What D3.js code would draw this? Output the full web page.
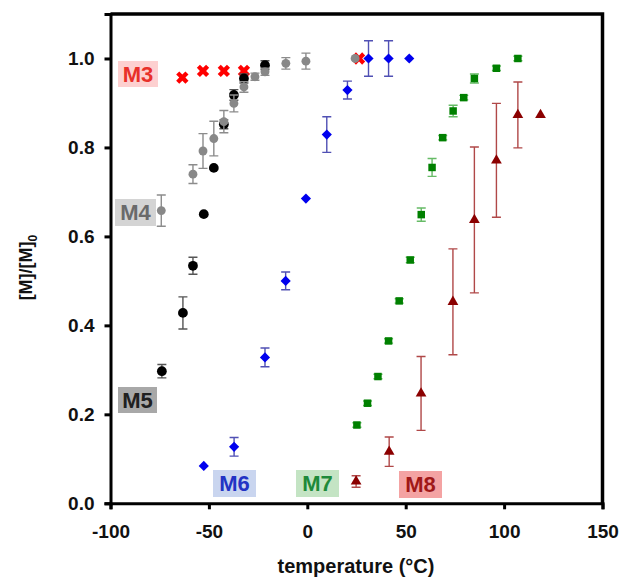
<!DOCTYPE html>
<html>
<head>
<meta charset="utf-8">
<script src="https://cdn.jsdelivr.net/npm/d3@7"></script>
<style>
    body { margin: 0; background: #fff; }
    text { font-family: "Liberation Sans", Arial, sans-serif; }
</style>
</head>
<body>
<div id="chart"></div>
<script>
// Data: temperature (°C) vs [M]/[M]0
const m3Temp = [-63.5, -53, -42.4, -32.2, 26.3];
const m3Val = [0.957, 0.972, 0.972, 0.972, 1.0];

const m5Temp = [-73.9, -63.2, -58.1, -52.6, -47.5, -42.4, -37.3, -32.2, -21.5];
const m5Val = [0.297, 0.428, 0.534, 0.650, 0.754, 0.852, 0.918, 0.955, 0.985];
const m5Err = [0.015, 0.036, 0.019, 0, 0, 0.01, 0.012, 0.01, 0.01];

const m4Temp = [-74.2, -58.1, -53, -47.5, -42.4, -37.3, -32.2, -26.6, -21.5, -10.9, -0.7, 24.3];
const m4Val = [0.658, 0.740, 0.792, 0.820, 0.858, 0.899, 0.936, 0.959, 0.970, 0.989, 0.994, 1.0];
const m4Err = [0.035, 0.021, 0.039, 0.039, 0.025, 0.019, 0.012, 0.008, 0.008, 0.013, 0.018, 0];

const m6Temp = [-52.6, -37.2, -21.5, -11, -0.7, 9.9, 20.4, 31.1, 41.3, 51.8];
const m6Val = [0.084, 0.127, 0.328, 0.5, 0.685, 0.829, 0.929, 1.0, 1.0, 1.0];
const m6Err = [0, 0.021, 0.021, 0.02, 0, 0.04, 0.02, 0.04, 0.04, 0];

const m7Temp = [25.2, 30.6, 35.9, 41.3, 46.7, 52.3, 57.9, 63.4, 68.8, 74.1, 79.5, 84.9, 96.1, 107];
const m7Val = [0.176, 0.225, 0.285, 0.365, 0.455, 0.547, 0.649, 0.755, 0.822, 0.882, 0.912, 0.955, 0.978, 1.0];
const m7Err = [0.005, 0.005, 0.005, 0.005, 0.005, 0.006, 0.015, 0.02, 0.005, 0.013, 0.005, 0.01, 0.005, 0.005];

const m8Temp = [24.8, 41.6, 57.8, 74, 84.9, 96.1, 107, 118.5];
const m8Val = [0.049, 0.116, 0.247, 0.453, 0.637, 0.771, 0.873, 0.873];
const m8Err = [0.013, 0.033, 0.083, 0.119, 0.164, 0.128, 0.074, 0];

const xTicks = [-100, -50, 0, 50, 100, 150];
const yTicks = [0, 0.2, 0.4, 0.6, 0.8, 1.0];

const width = 623;
const height = 579;
const plot = { left: 110.5, right: 602.5, top: 14, bottom: 503.3 };

const svg = d3.select('#chart')
    .append('svg')
    .attr('width', width)
    .attr('height', height);

const xScale = d3.scaleLinear().domain([-100, 150]).range([plot.left, plot.right]);
const yScale = d3.scaleLinear().domain([0, 1.1]).range([plot.bottom, plot.top]);

// Axes
const xAxis = svg.append('g')
    .attr('transform', `translate(0, ${plot.bottom})`)
    .call(d3.axisBottom(xScale).tickValues(xTicks).tickSize(6).tickPadding(15).tickFormat(d => String(d)));

const yAxis = svg.append('g')
    .attr('transform', `translate(${plot.left}, 0)`)
    .call(d3.axisLeft(yScale).tickValues(yTicks).tickSize(6).tickPadding(10).tickFormat(d => d.toFixed(1)));

[xAxis, yAxis].forEach(ax => {
    ax.select('.domain').attr('stroke', '#000').attr('stroke-width', 3);
    ax.selectAll('.tick line').attr('stroke', '#000').attr('stroke-width', 3);
    ax.selectAll('.tick text')
        .style('font-size', '19px')
        .style('font-weight', 'bold')
        .style('font-family', '"Liberation Sans", Arial, sans-serif')
        .attr('fill', '#111');
});

// Frame top and right
svg.append('path')
    .attr('d', `M${plot.left},${plot.top}H${plot.right}V${plot.bottom}`)
    .attr('fill', 'none')
    .attr('stroke', '#000')
    .attr('stroke-width', 3.5);

// Axis labels
svg.append('text')
    .attr('x', 356)
    .attr('y', 573)
    .attr('text-anchor', 'middle')
    .style('font-size', '20px')
    .style('font-weight', 'bold')
    .attr('fill', '#111')
    .text('temperature (°C)');

const yLabel = svg.append('text')
    .attr('transform', `translate(32, ${yScale(0.53)}) rotate(-90)`)
    .attr('text-anchor', 'middle')
    .style('font-size', '18px')
    .style('font-weight', 'bold')
    .attr('fill', '#111');
yLabel.append('tspan').text('[M]/[M]');
yLabel.append('tspan').attr('dy', 5).style('font-size', '12px').text('0');

// Series labels
const labels = [
    { text: 'M3', x: 118, y: 61, w: 40, h: 26, bg: '#fdd0d0', fg: '#e8302a' },
    { text: 'M4', x: 115, y: 199, w: 41, h: 27, bg: '#d4d4d4', fg: '#6a6a6a' },
    { text: 'M5', x: 118, y: 387, w: 39, h: 26, bg: '#a8a8a8', fg: '#202020' },
    { text: 'M6', x: 213, y: 470, w: 43, h: 27, bg: '#c9d5ef', fg: '#2233c4' },
    { text: 'M7', x: 296, y: 470, w: 43, h: 27, bg: '#c4e4c4', fg: '#1e8a3a' },
    { text: 'M8', x: 399, y: 471, w: 43, h: 27, bg: '#f4a3a3', fg: '#a01818' }
];
labels.forEach(l => {
    svg.append('rect')
        .attr('x', l.x).attr('y', l.y)
        .attr('width', l.w).attr('height', l.h)
        .attr('fill', l.bg);
    svg.append('text')
        .attr('x', l.x + l.w / 2)
        .attr('y', l.y + l.h / 2)
        .attr('dy', '0.36em')
        .attr('text-anchor', 'middle')
        .style('font-size', '22px')
        .style('font-weight', 'bold')
        .attr('fill', l.fg)
        .text(l.text);
});

// Error bars
function drawErrors(temps, vals, errs, color) {
    const data = temps.map((t, i) => ({ t: t, v: vals[i], e: errs[i] })).filter(d => d.e > 0);
    const g = svg.append('g').attr('stroke', color).attr('stroke-width', 1.4).attr('fill', 'none');
    data.forEach(d => {
        const x = xScale(d.t);
        const y1 = yScale(d.v - d.e);
        const y2 = yScale(d.v + d.e);
        g.append('path').attr('d', `M${x},${y1}V${y2}M${x - 4.5},${y1}H${x + 4.5}M${x - 4.5},${y2}H${x + 4.5}`);
    });
}

// Markers
function drawMarkers(temps, vals, symbolType, size, color, rotate) {
    const sym = d3.symbol().type(symbolType).size(size);
    svg.append('g')
        .selectAll('path')
        .data(temps.map((t, i) => ({ t: t, v: vals[i] })))
        .enter()
        .append('path')
        .attr('d', sym)
        .attr('transform', d => `translate(${xScale(d.t)}, ${yScale(d.v)}) rotate(${rotate || 0})`)
        .attr('fill', color);
}

drawMarkers(m3Temp, m3Val, d3.symbolCross, 95, '#ff0000', 45);

drawErrors(m5Temp, m5Val, m5Err, '#555555');
drawMarkers(m5Temp, m5Val, d3.symbolCircle, 75, '#000000');

drawErrors(m4Temp, m4Val, m4Err, '#8c8c8c');
drawMarkers(m4Temp, m4Val, d3.symbolCircle, 62, '#888888');

drawErrors(m6Temp, m6Val, m6Err, '#5050b4');
drawMarkers(m6Temp, m6Val, d3.symbolSquare, 52, '#0000ee', 45);

drawErrors(m7Temp, m7Val, m7Err, '#66bb66');
drawMarkers(m7Temp, m7Val, d3.symbolSquare, 56, '#008000');

drawErrors(m8Temp, m8Val, m8Err, '#b04848');
drawMarkers(m8Temp, m8Val, d3.symbolTriangle, 50, '#8b0000');
</script>
</body>
</html>
